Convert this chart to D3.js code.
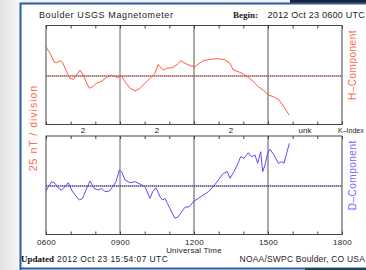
<!DOCTYPE html>
<html>
<head>
<meta charset="utf-8">
<script src="https://cdn.jsdelivr.net/npm/d3@7"></script>
<style>
  body { margin: 0; background: #fff; }
  svg { display: block; }
</style>
</head>
<body>
<svg width="366" height="270"></svg>
<script>
// UT hours and nT offsets from the baseline
const hTimes = [6.00, 6.16, 6.32, 6.43, 6.57, 6.68, 6.84, 6.97, 7.11, 7.24, 7.38, 7.51, 7.65, 7.76, 7.89,
  8.05, 8.26, 8.46, 8.66, 8.80, 8.93, 9.07, 9.20, 9.41, 9.61, 9.81, 10.08, 10.28, 10.42, 10.55, 10.62,
  10.76, 10.89, 11.10, 11.30, 11.46, 11.64, 11.84, 12.04, 12.18, 12.38, 12.65, 12.99, 13.26, 13.46,
  13.59, 13.80, 14.00, 14.20, 14.41, 14.61, 14.81, 15.01, 15.22, 15.42, 15.62, 15.86];
const hValues = [28.7, 23, 14.3, 13.3, 15.3, 13, 4.3, -2.3, -3.3, 1, 6, 1, -7.3, -12.3, -10.7,
  -7.3, -5, -1.3, 1, -0.7, -1.3, 0, -5.7, -12.3, -15, -12.3, -5.7, -0.7, 2.7, 11.7, 9.3,
  6, 7.7, 8.3, 11, 15.3, 12.7, 10.3, 9.3, 12, 15.3, 16.7, 17.3, 16, 12.7,
  6, 4.3, 2, -1.3, -5.7, -10.7, -14, -19, -20.7, -23.3, -30, -39];

const dTimes = [6.000, 6.095, 6.230, 6.365, 6.500, 6.635, 6.770, 6.905, 7.041, 7.176, 7.351, 7.486,
  7.622, 7.784, 7.946, 8.122, 8.257, 8.392, 8.568, 8.703, 8.838, 8.973, 9.068, 9.203, 9.405, 9.608,
  9.811, 10.014, 10.216, 10.324, 10.459, 10.622, 10.730, 10.824, 10.919, 11.054, 11.230, 11.365,
  11.500, 11.635, 11.811, 11.973, 12.176, 12.378, 12.581, 12.784, 12.986, 13.189, 13.351, 13.459,
  13.622, 13.757, 13.892, 14.027, 14.203, 14.338, 14.473, 14.581, 14.703, 14.784, 14.878, 14.986,
  15.081, 15.243, 15.419, 15.554, 15.649, 15.757, 15.865];
const dValues = [-5, -0.7, 4.3, 2.7, -2.3, -4, -0.7, 3.3, -4, -9, -14, -12.3,
  -4, 5, -2.3, -4, -2.3, -5.7, -5, -0.7, 4.3, 16, 14.3, 6, 3.3, 4.3,
  2, -0.7, -12.3, -5.7, -1.7, -10.7, -14, -12.3, -17.3, -24, -32.3, -30.7,
  -25.7, -21.3, -20.7, -15.7, -12.3, -9, -5.7, -0.7, 6, 12.7, 14.3, 7.7,
  14.3, 21, 29.3, 27.7, 33.3, 29.3, 31, 22.7, 34.3, 14.3, 21, 32.7,
  36.7, 31, 22.7, 24.3, 22.7, 32.7, 42.7];

const kTimes = [7.5, 10.5, 13.5, 16.5];
const kLabels = ["2", "2", "2", "unk"];
const hourTicks = d3.range(6, 19, 1);
const majorTicks = [6, 9, 12, 15, 18];

const svg = d3.select("svg");
const FONT = "'Liberation Sans', Arial, sans-serif";
const SERIF = "'Liberation Serif', 'Times New Roman', serif";

// window chrome / background
const grad = svg.append("defs").append("linearGradient").attr("id", "shade");
grad.append("stop").attr("offset", "0").attr("stop-color", "#e2e2e2");
grad.append("stop").attr("offset", "1").attr("stop-color", "#f7f7f7");
svg.append("rect").attr("width", 366).attr("height", 270).attr("fill", "#f2f2f2");
svg.append("rect").attr("width", 21).attr("height", 270).attr("fill", "url(#shade)");
svg.append("rect").attr("x", 290).attr("y", 0).attr("width", 76).attr("height", 3).attr("fill", "#1d2230");
svg.append("rect").attr("x", 21).attr("y", 4).attr("width", 345).attr("height", 264).attr("fill", "#fff");
svg.append("path").attr("d", "M20.5,270V3.5H366M20.5,268.5H366")
  .attr("fill", "none").attr("stroke", "#2b5ca3").attr("stroke-width", 2);
svg.append("rect").attr("x", 305).attr("y", 268).attr("width", 61).attr("height", 2).attr("fill", "#1f4650");

const x = d3.scaleLinear().domain([6, 18]).range([46, 342]);

const panels = [
  { times: hTimes, values: hValues, top: 25.5, bottom: 124.5, dom: [-48.5, 50.5],
    line: "#ff5a3c", dots: "#c0301c", label: "H\u2013Component", labelColor: "#ff6a4c" },
  { times: dTimes, values: dValues, top: 136, bottom: 234.5, dom: [-48.5, 50],
    line: "#5b4cff", dots: "#1a1a90", label: "D\u2013Component", labelColor: "#7a68ff" }
];

panels.forEach(p => {
  const y = d3.scaleLinear().domain(p.dom).range([p.bottom, p.top]);
  const g = svg.append("g");

  // vertical grid
  g.selectAll("line.grid").data([9, 12, 15]).enter().append("line")
    .attr("x1", d => x(d)).attr("x2", d => x(d))
    .attr("y1", p.top).attr("y2", p.bottom)
    .attr("stroke", d => d === 9 ? "#9a9a9a" : "#555")
    .attr("stroke-width", d => d === 9 ? 1.5 : 1);

  // baseline
  g.append("line").attr("x1", x(6)).attr("x2", x(18))
    .attr("y1", y(0)).attr("y2", y(0)).attr("stroke", "#8a8a8a").attr("stroke-width", 1.2);
  g.append("line").attr("x1", x(6)).attr("x2", x(18))
    .attr("y1", y(0)).attr("y2", y(0)).attr("stroke", p.dots)
    .attr("stroke-width", 1).attr("stroke-dasharray", "1,1");

  // hourly ticks, pointing inward
  g.append("g").attr("transform", "translate(0," + p.top + ")")
    .call(d3.axisTop(x).tickValues(hourTicks).tickSize(-3).tickFormat(""))
    .call(a => a.select(".domain").remove())
    .selectAll("line").attr("stroke", "#444");
  g.append("g").attr("transform", "translate(0," + p.bottom + ")")
    .call(d3.axisBottom(x).tickValues(hourTicks).tickSize(-3).tickFormat(""))
    .call(a => a.select(".domain").remove())
    .selectAll("line").attr("stroke", "#444");

  // data
  const pts = p.times.map((t, i) => [t, p.values[i]]);
  g.append("path").datum(pts)
    .attr("d", d3.line().x(d => x(d[0])).y(d => y(d[1])))
    .attr("fill", "none").attr("stroke", p.line).attr("stroke-width", 1);

  // frame
  g.append("rect").attr("x", x(6)).attr("y", p.top)
    .attr("width", x(18) - x(6)).attr("height", p.bottom - p.top)
    .attr("fill", "none").attr("stroke", "#444").attr("stroke-width", 1);

  // right label
  svg.append("text")
    .attr("transform", "translate(356," + ((p.top + p.bottom) / 2 - 10) + ")rotate(-90)")
    .attr("text-anchor", "middle")
    .style("font-family", FONT).style("font-size", "10px").style("letter-spacing", "0.5px")
    .attr("fill", p.labelColor).text(p.label);
});

// K-index row
svg.selectAll("text.k").data(kTimes).enter().append("text")
  .attr("x", d => x(d)).attr("y", 133).attr("text-anchor", "middle")
  .style("font-family", FONT).style("font-size", "8px").attr("fill", "#222")
  .text((d, i) => kLabels[i]);
svg.append("text").attr("x", 338).attr("y", 133)
  .style("font-family", FONT).style("font-size", "7px").attr("fill", "#222").text("K\u2013Index");

// x axis labels
svg.append("g").attr("transform", "translate(0,235)")
  .call(d3.axisBottom(x).tickValues(majorTicks).tickSize(0).tickPadding(4)
    .tickFormat(d => String(d * 100).padStart(4, "0")))
  .call(a => a.select(".domain").remove())
  .selectAll("text").style("font-family", FONT).style("font-size", "8px")
  .style("letter-spacing", "0.3px").attr("fill", "#222");
svg.append("text").attr("x", x(12)).attr("y", 253).attr("text-anchor", "middle")
  .style("font-family", FONT).style("font-size", "8px").style("letter-spacing", "0.2px")
  .attr("fill", "#222").text("Universal Time");

// left label
svg.append("text").attr("transform", "translate(37,128)rotate(-90)")
  .attr("text-anchor", "middle")
  .style("font-family", FONT).style("font-size", "10.5px").style("letter-spacing", "1px")
  .attr("fill", "#ff6a4c")
  .text("25 nT / division");

// header
svg.append("text").attr("x", 39).attr("y", 18)
  .style("font-family", FONT).style("font-size", "9px").style("letter-spacing", "0.6px")
  .attr("fill", "#222").text("Boulder USGS Magnetometer");
svg.append("text").attr("x", 233).attr("y", 18)
  .style("font-family", SERIF).style("font-size", "9px").style("font-weight", "bold").attr("fill", "#222")
  .text("Begin:");
svg.append("text").attr("x", 365).attr("y", 18).attr("text-anchor", "end")
  .style("font-family", FONT).style("font-size", "9px").style("letter-spacing", "0.25px")
  .attr("fill", "#222").text("2012 Oct 23 0600 UTC");

// footer
svg.append("text").attr("x", 21).attr("y", 262)
  .style("font-family", SERIF).style("font-size", "9px").style("font-weight", "bold").attr("fill", "#111")
  .text("Updated");
svg.append("text").attr("x", 57).attr("y", 262)
  .style("font-family", FONT).style("font-size", "8.5px").style("letter-spacing", "0.4px")
  .attr("fill", "#222").text("2012 Oct 23 15:54:07 UTC");
svg.append("text").attr("x", 365).attr("y", 262).attr("text-anchor", "end")
  .style("font-family", FONT).style("font-size", "8.5px").style("letter-spacing", "0.2px")
  .attr("fill", "#222").text("NOAA/SWPC Boulder, CO USA");
</script>
</body>
</html>
